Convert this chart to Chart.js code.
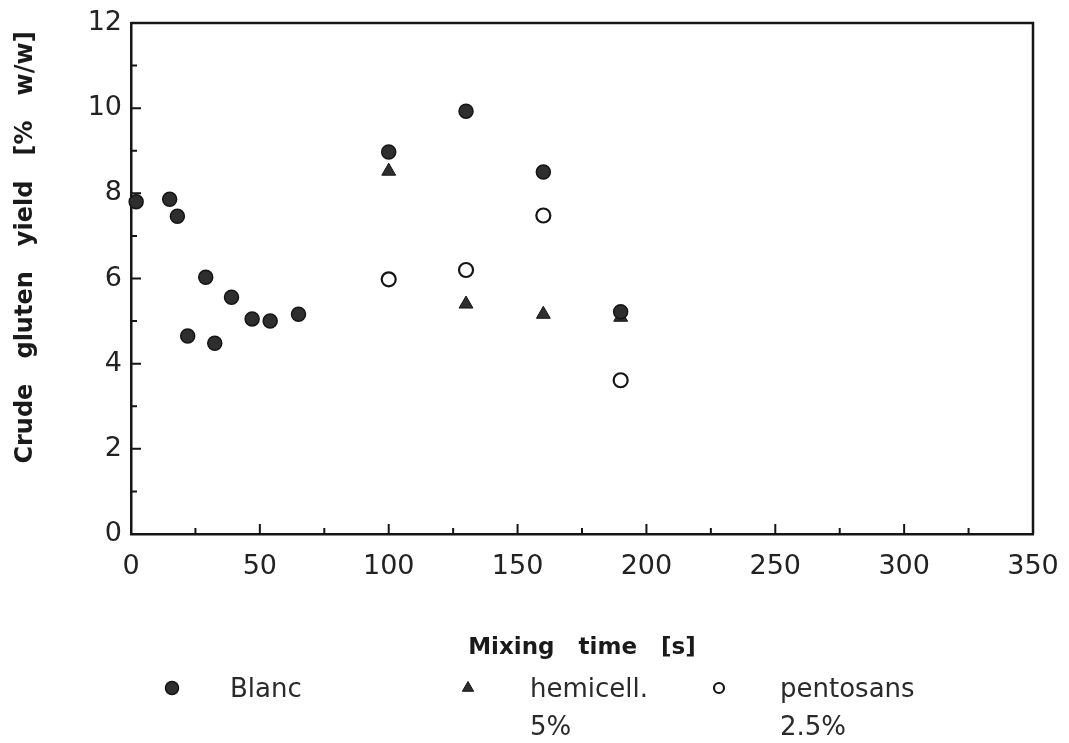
<!DOCTYPE html>
<html lang="en">
<head>
    <meta charset="UTF-8">
    <title>Crude gluten yield vs mixing time</title>
    <script src="https://cdn.jsdelivr.net/npm/chart.js"></script>
    <style>
        body {
            margin: 0;
            padding: 0;
            background: #ffffff;
        }
        #wrap {
            width: 1069px;
            height: 743px;
        }
    </style>
</head>
<body>
    <div id="wrap">
        <canvas id="glutenChart" width="1069" height="743"></canvas>
    </div>

    <script>
        // values
        const blancX = [2, 15, 18, 22, 29, 32.5, 39, 47, 54, 65, 100, 130, 160, 190];
        const blancY = [7.8, 7.86, 7.46, 4.65, 6.03, 4.48, 5.56, 5.05, 5.0, 5.16, 8.97, 9.93, 8.5, 5.22];
        const hemiX = [100, 130, 160, 190];
        const hemiY = [8.52, 5.4, 5.16, 5.09];
        const pentX = [100, 130, 160, 190];
        const pentY = [5.98, 6.2, 7.48, 3.61];

        const seriesNames = ['Blanc', 'hemicell.\n5%', 'pentosans\n2.5%'];
        const xTitle = 'Mixing   time   [s]';
        const yTitle = 'Crude   gluten   yield   [%   w/w] ';

        const ink = '#151515';
        const toPoints = (xs, ys) => xs.map((x, i) => ({ x: x, y: ys[i] }));

        // inward tick marks + top/right frame
        const framePlugin = {
            id: 'frame',
            afterDraw(chart) {
                const ctx = chart.ctx;
                const a = chart.chartArea;
                const xs = chart.scales.x;
                const ys = chart.scales.y;
                ctx.save();
                ctx.strokeStyle = ink;
                ctx.lineWidth = 2.5;
                ctx.beginPath();
                ctx.moveTo(a.left, a.top);
                ctx.lineTo(a.right, a.top);
                ctx.lineTo(a.right, a.bottom);
                ctx.stroke();

                ctx.lineWidth = 2;
                ctx.beginPath();
                ys.ticks.forEach(t => {
                    if (t.value <= ys.min || t.value >= ys.max) return;
                    const py = ys.getPixelForValue(t.value);
                    const len = t.value % 2 === 0 ? 10 : 6;
                    ctx.moveTo(a.left, py);
                    ctx.lineTo(a.left + len, py);
                });
                xs.ticks.forEach(t => {
                    if (t.value <= xs.min || t.value >= xs.max) return;
                    const px = xs.getPixelForValue(t.value);
                    const len = t.value % 50 === 0 ? 10 : 6;
                    ctx.moveTo(px, a.bottom);
                    ctx.lineTo(px, a.bottom - len);
                });
                ctx.stroke();
                ctx.restore();
            }
        };

        // legend under the axis title, labels may wrap on two lines
        const legendPlugin = {
            id: 'bottomLegend',
            afterDraw(chart) {
                const ctx = chart.ctx;
                const spots = [[172, 230], [468, 530], [719, 780]];
                const rowY = 690;
                ctx.save();
                ctx.font = '26px "DejaVu Sans"';
                ctx.textBaseline = 'middle';
                ctx.textAlign = 'left';
                chart.data.datasets.forEach((ds, i) => {
                    const [mx, tx] = spots[i];
                    const style = {
                        pointStyle: ds.pointStyle,
                        radius: ds.legendRadius,
                        borderWidth: ds.borderWidth
                    };
                    ctx.fillStyle = ds.backgroundColor;
                    ctx.strokeStyle = ds.borderColor;
                    ctx.lineWidth = ds.borderWidth;
                    Chart.helpers.drawPoint(ctx, style, mx, rowY - 2);
                    ctx.fillStyle = '#2a2a2a';
                    seriesNames[i].split('\n').forEach((line, j) => {
                        ctx.fillText(line, tx, rowY + j * 38);
                    });
                });
                ctx.restore();
            }
        };

        const ctx = document.getElementById('glutenChart').getContext('2d');
        const glutenChart = new Chart(ctx, {
            type: 'scatter',
            data: {
                datasets: [
                    {
                        label: 'Blanc',
                        data: toPoints(blancX, blancY),
                        pointStyle: 'circle',
                        pointRadius: 7,
                        legendRadius: 6.5,
                        backgroundColor: '#2e2e2e',
                        borderColor: ink,
                        borderWidth: 1.5,
                        clip: false,
                        order: 1
                    },
                    {
                        label: 'hemicell. 5%',
                        data: toPoints(hemiX, hemiY),
                        pointStyle: 'triangle',
                        pointRadius: 8,
                        legendRadius: 6.5,
                        backgroundColor: '#2e2e2e',
                        borderColor: ink,
                        borderWidth: 1,
                        clip: false,
                        order: 2
                    },
                    {
                        label: 'pentosans 2.5%',
                        data: toPoints(pentX, pentY),
                        pointStyle: 'circle',
                        pointRadius: 7,
                        legendRadius: 5,
                        backgroundColor: '#ffffff',
                        borderColor: ink,
                        borderWidth: 2.2,
                        clip: false,
                        order: 3
                    }
                ]
            },
            options: {
                responsive: false,
                animation: false,
                devicePixelRatio: 1,
                layout: { padding: { left: 0, top: 23, right: 36, bottom: 80 } },
                plugins: {
                    legend: { display: false },
                    tooltip: { enabled: false }
                },
                scales: {
                    x: {
                        type: 'linear',
                        min: 0,
                        max: 350,
                        afterFit: s => {
                            s.height = 129;
                            s.paddingLeft = 0;
                            s.paddingRight = 0;
                        },
                        grid: { display: false, drawTicks: false },
                        border: { display: true, color: ink, width: 2.5 },
                        ticks: {
                            stepSize: 25,
                            autoSkip: false,
                            maxRotation: 0,
                            padding: 17,
                            color: '#222',
                            font: { family: 'DejaVu Sans', size: 27 },
                            callback: v => (v % 50 === 0 ? v : '')
                        },
                        title: {
                            display: true,
                            text: xTitle,
                            color: '#1a1a1a',
                            font: { family: 'DejaVu Sans', size: 23, weight: 'bold' },
                            padding: { top: 0, bottom: 1 }
                        }
                    },
                    y: {
                        type: 'linear',
                        min: 0,
                        max: 12,
                        afterFit: s => {
                            s.width = 131;
                            s.paddingTop = 0;
                            s.paddingBottom = 0;
                        },
                        grid: { display: false, drawTicks: false },
                        border: { display: true, color: ink, width: 2.5 },
                        ticks: {
                            stepSize: 1,
                            autoSkip: false,
                            padding: 9,
                            color: '#222',
                            font: { family: 'DejaVu Sans', size: 27 },
                            callback: v => (v % 2 === 0 ? v : '')
                        },
                        title: {
                            display: true,
                            text: yTitle,
                            align: 'end',
                            color: '#1a1a1a',
                            font: { family: 'DejaVu Sans', size: 24, weight: 'bold' },
                            padding: { top: 11, bottom: 0 }
                        }
                    }
                }
            },
            plugins: [framePlugin, legendPlugin]
        });
    </script>
</body>
</html>
